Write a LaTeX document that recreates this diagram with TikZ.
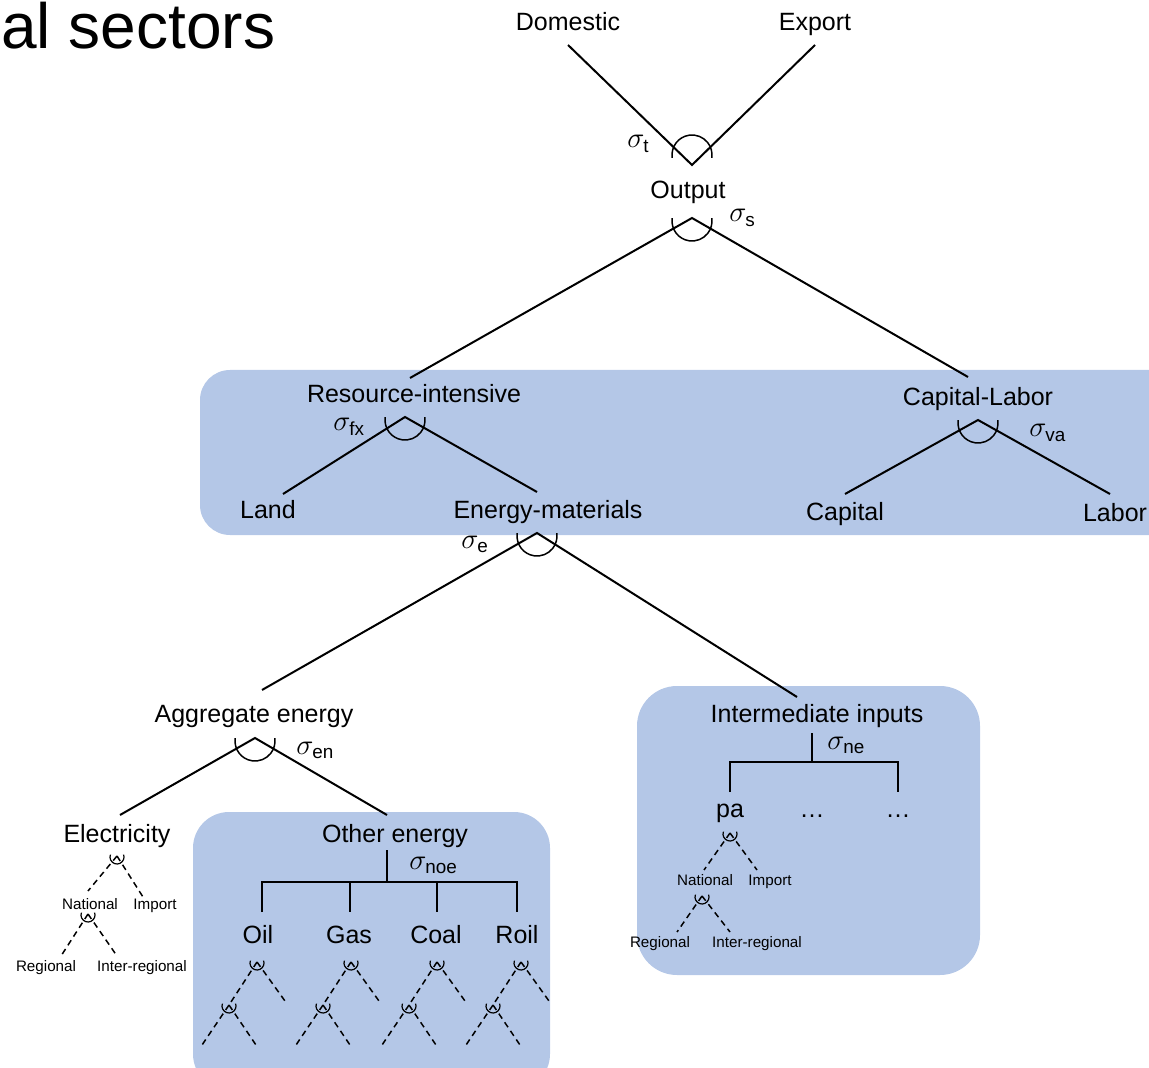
\documentclass[tikz,border=0pt]{standalone}
\usepackage{amsmath}
\usepackage{fontspec}
\setmainfont{Liberation Sans}
\definecolor{boxblue}{RGB}{180,199,231}
\newcommand\mainf{\fontsize{12.5}{15}\selectfont}
\newcommand\sigf{\fontsize{13.5}{16}\selectfont}
\newcommand\smallf{\fontsize{7.6}{9}\selectfont}
\newcommand\titlef{\fontsize{32}{38}\selectfont}
\newcommand\bigarcdown[1]{\draw[line width=0.75pt] ([shift={(0,3)}]#1) ++(188:20) arc (188:-8:20);}
\newcommand\smallarc[1]{\draw[line width=0.6pt] ([shift={(0,1)}]#1) ++(200:7) arc (200:-20:7);}
\newcommand\smalltree[3]{%
  \coordinate (#1T) at (#2,#3);
  \coordinate (#1R) at ($(#1T)+(28,39)$);
  \coordinate (#1V) at ($(#1T)+(-28,43)$);
  \coordinate (#1A) at ($(#1V)+(-27,40)$);
  \coordinate (#1B) at ($(#1V)+(27,40)$);
  \draw[dline] (#1T) -- (#1R);
  \draw[dline] (#1T) -- (#1V);
  \draw[dline] (#1V) -- (#1A);
  \draw[dline] (#1V) -- (#1B);
  \smallarc{#1T}\smallarc{#1V}}
\usetikzlibrary{calc}
\begin{document}
\begin{tikzpicture}[x=0.5pt,y=-0.5pt,
  lbl/.style={font=\mainf,anchor=base,inner sep=0pt},
  slbl/.style={font=\smallf,anchor=base,inner sep=0pt},
  sig/.style={font=\sigf,anchor=base west,inner sep=0pt},
  sline/.style={line width=1pt},
  dline/.style={line width=0.75pt,dash pattern=on 3pt off 2.2pt},
  bluebox/.style={fill=boxblue,draw=none}]
\useasboundingbox (0,0) rectangle (1149,1068);
\clip (0,0) rectangle (1149,1068);
% boxes
\fill[bluebox,rounded corners=15pt] (200,370) rectangle (1185,535);
\fill[bluebox,rounded corners=18pt] (193,812) rectangle (550,1090);
\fill[bluebox,rounded corners=20pt] (637,686) rectangle (980,975);
% title
\node[font=\titlef,anchor=base west,inner sep=0pt] (title) at (1,49) {al sectors};
% labels
\node[lbl] (dom) at (568,31) {Domestic};
\node[lbl] (exp) at (815,31) {Export};
\node[lbl] (out) at (688,199) {Output};
\node[lbl] (ri) at (414,403) {Resource-intensive};
\node[lbl] (cl) at (978,406) {Capital-Labor};
\node[lbl] (land) at (268,518) {Land};
\node[lbl] (em) at (548,518) {Energy-materials};
\node[lbl] (cap) at (845,521) {Capital};
\node[lbl] (lab) at (1115,522) {Labor};
\node[lbl] (ae) at (254,722) {Aggregate energy};
\node[lbl] (ii) at (817,722) {Intermediate inputs};
\node[lbl] (el) at (117,842) {Electricity};
\node[lbl] (oe) at (395,842) {Other energy};
\node[lbl] (oil) at (258,943) {Oil};
\node[lbl] (gas) at (349,943) {Gas};
\node[lbl] (coal) at (436,943) {Coal};
\node[lbl] (roil) at (517,943) {Roil};
\node[lbl] (pa) at (730,817) {pa};
\node[lbl] (d1) at (812,817) {\dots};
\node[lbl] (d2) at (898,817) {\dots};
% sigmas
\node[sig] (st) at (627,148) {$\sigma_{\text{t}}$};
\node[sig] (ss) at (729,222) {$\sigma_{\text{s}}$};
\node[sig] (sfx) at (333,431) {$\sigma_{\text{fx}}$};
\node[sig] (sva) at (1029,437) {$\sigma_{\text{va}}$};
\node[sig] (se) at (461,548) {$\sigma_{\text{e}}$};
\node[sig] (sen) at (296,754) {$\sigma_{\text{en}}$};
\node[sig] (snoe) at (409,869) {$\sigma_{\text{noe}}$};
\node[sig] (sne) at (827,749) {$\sigma_{\text{ne}}$};
% vertices
\coordinate (vtop) at (692,165);
\coordinate (domE) at (568,45);
\coordinate (expE) at (815,45);
\coordinate (vout) at (692,218);
\coordinate (riT) at (410,378);
\coordinate (clT) at (968,377);
\coordinate (vri) at (405,417);
\coordinate (landT) at (283,494);
\coordinate (emT) at (537,492);
\coordinate (vcl) at (978,420);
\coordinate (capT) at (845,494);
\coordinate (labT) at (1110,494);
\coordinate (vem) at (537,533);
\coordinate (aeT) at (262,690);
\coordinate (iiT) at (797,697);
\coordinate (vae) at (255,738);
\coordinate (elT) at (120,815);
\coordinate (oeT) at (387,815);
% top inverted V
\draw[sline] (domE) -- (vtop) -- (expE);
\draw[line width=0.75pt] ([shift={(0,-10)}]vtop) ++(172:20) arc (172:368:20);
% solid tree
\draw[sline] (riT) -- (vout) -- (clT);
\bigarcdown{vout}
\draw[sline] (landT) -- (vri) -- (emT);
\bigarcdown{vri}
\draw[sline] (capT) -- (vcl) -- (labT);
\bigarcdown{vcl}
\draw[sline] (aeT) -- (vem) -- (iiT);
\bigarcdown{vem}
\draw[sline] (elT) -- (vae) -- (oeT);
\bigarcdown{vae}
% other energy bracket
\coordinate (oeB) at (387,850);
\coordinate (oeH) at (387,882);
\draw[sline] (oeB) -- (oeH);
\draw[sline] (262,912) -- (262,882) -- (517,882) -- (517,912);
\draw[sline] (350,882) -- (350,912);
\draw[sline] (437,882) -- (437,912);
% intermediate bracket
\coordinate (iiB) at (812,733);
\coordinate (iiH) at (812,762);
\draw[sline] (iiB) -- (iiH);
\draw[sline] (730,792) -- (730,762) -- (898,762) -- (898,792);
% small dashed trees for fuels
\smalltree{oilt}{257}{962}
\smalltree{gast}{351}{962}
\smalltree{coalt}{437}{962}
\smalltree{roilt}{521}{962}
% electricity tree
\node[slbl] (elN) at (90,909) {National};
\node[slbl] (elI) at (155,909) {Import};
\node[slbl] (elR) at (46,971) {Regional};
\node[slbl] (elX) at (142,971) {Inter-regional};
\coordinate (elV1) at (117,856);
\coordinate (elV2) at (88,914);
\draw[dline] (elV1) -- (88,891);
\draw[dline] (elV1) -- (143,897);
\draw[dline] (elV2) -- (61,956);
\draw[dline] (elV2) -- (117,956);
\smallarc{elV1}\smallarc{elV2}
% pa tree
\node[slbl] (paN) at (705,885) {National};
\node[slbl] (paI) at (770,885) {Import};
\node[slbl] (paR) at (660,947) {Regional};
\node[slbl] (paX) at (757,947) {Inter-regional};
\coordinate (paV1) at (730,833);
\coordinate (paV2) at (702,896);
\draw[dline] (paV1) -- (704,870);
\draw[dline] (paV1) -- (757,870);
\draw[dline] (paV2) -- (677,932);
\draw[dline] (paV2) -- (730,932);
\smallarc{paV1}\smallarc{paV2}
\end{tikzpicture}
\end{document}
